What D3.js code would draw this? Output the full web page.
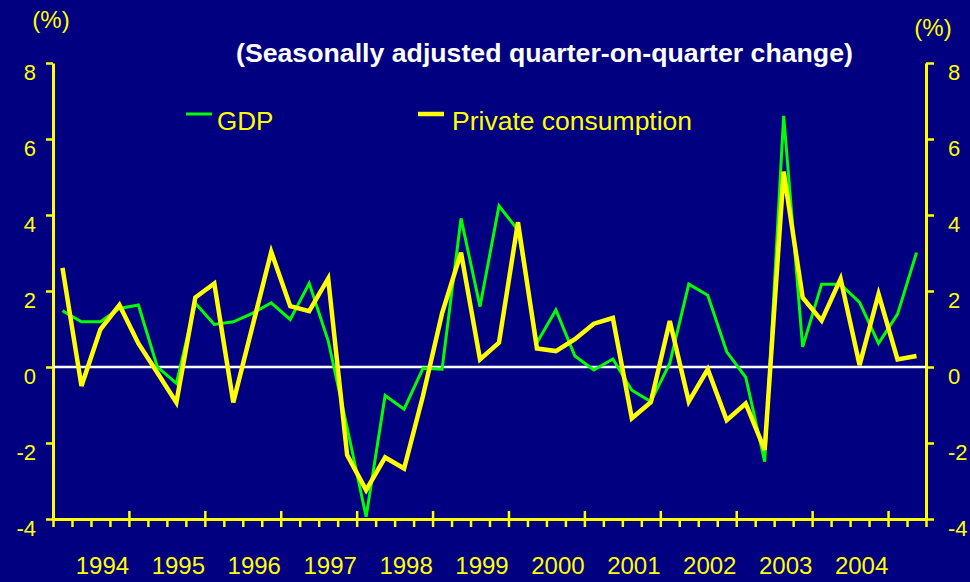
<!DOCTYPE html>
<html>
<head>
<meta charset="utf-8">
<script src="https://cdn.jsdelivr.net/npm/d3@7"></script>
<style>
  html, body { margin: 0; padding: 0; background: #000080; }
  svg { display: block; }
</style>
</head>
<body>
<script>
'use strict';

// quarterly data, 1994 Q1 .. 2005 Q2
const years = [1994, 1995, 1996, 1997, 1998, 1999, 2000, 2001, 2002, 2003, 2004];
const gdp = [1.48, 1.19, 1.19, 1.54, 1.63, 0.0, -0.43, 1.68, 1.12, 1.19, 1.41, 1.69,
  1.25, 2.20, 0.69, -1.6, -3.94, -0.75, -1.11, -0.03, -0.06, 3.91, 1.59, 4.24,
  3.6, 0.64, 1.50, 0.29, -0.08, 0.21, -0.61, -0.91, 0.10, 2.18, 1.89, 0.40,
  -0.27, -2.49, 6.61, 0.53, 2.18, 2.18, 1.70, 0.62, 1.39, 3.01];
const consumption = [2.61, -0.50, 0.99, 1.63, 0.62, -0.15, -0.93, 1.83, 2.20, -0.93, 1.05, 3.03,
  1.60, 1.47, 2.33, -2.32, -3.24, -2.38, -2.67, -0.75, 1.41, 3.01, 0.20, 0.64,
  3.81, 0.49, 0.42, 0.73, 1.14, 1.29, -1.35, -0.93, 1.21, -0.91, -0.06, -1.40,
  -0.96, -2.18, 5.14, 1.83, 1.22, 2.32, 0.05, 1.92, 0.20, 0.29];
const yTicks = [-4, -2, 0, 2, 4, 6, 8];

(function () {

  const font = "Arial, 'Liberation Sans', sans-serif";
  const yellow = '#FFFF00';
  const green = '#00FF00';

  let svgContainer = d3.select('body')
    .append('svg')
    .attr('width', 970)
    .attr('height', 582);

  svgContainer.append('rect')
    .attr('width', 970)
    .attr('height', 582)
    .attr('fill', '#000080');

  // x: quarter edges, points sit in the middle of each quarter
  let xScale = d3.scaleLinear().domain([0, gdp.length]).range([53, 926]);
  let yScale = d3.scaleLinear().domain([-4, 8]).range([519, 63]);

  // plain hyphen for negatives, like the original
  let tickFmt = (d) => String(d);

  drawAxes();
  plotData();
  makeLabels();
  makeLegend();

  function styleAxis(g, size) {
    g.attr('font-family', font).attr('font-size', size);
    g.select('.domain').attr('stroke', yellow).attr('stroke-width', 3);
    g.selectAll('.tick line').attr('stroke', yellow).attr('stroke-width', 2.5);
    g.selectAll('.tick text').attr('fill', yellow);
  }

  function drawAxes() {
    // left axis
    let left = svgContainer.append('g')
      .attr('transform', 'translate(53,0)')
      .call(d3.axisLeft(yScale).tickValues(yTicks).tickFormat(tickFmt)
        .tickSize(7).tickSizeOuter(0).tickPadding(10));
    styleAxis(left, 22);
    left.selectAll('.tick text').attr('dy', 16);

    // right axis
    let right = svgContainer.append('g')
      .attr('transform', 'translate(926,0)')
      .call(d3.axisRight(yScale).tickValues(yTicks).tickFormat(tickFmt)
        .tickSize(8).tickSizeOuter(0).tickPadding(14));
    styleAxis(right, 22);
    right.selectAll('.tick text').attr('dy', 16);

    // zero line
    svgContainer.append('line')
      .attr('x1', xScale(0))
      .attr('x2', xScale(gdp.length))
      .attr('y1', yScale(0))
      .attr('y2', yScale(0))
      .attr('stroke', 'white')
      .attr('stroke-width', 2.5);

    // bottom axis: quarter ticks, longer ticks between years
    let bottom = svgContainer.append('g')
      .attr('transform', 'translate(0,' + yScale(-4) + ')')
      .call(d3.axisBottom(xScale).tickValues(d3.range(0, gdp.length + 1))
        .tickSize(8).tickSizeOuter(0).tickFormat(''));
    styleAxis(bottom, 24);
    bottom.selectAll('.tick line')
      .attr('y1', (d) => (d % 4 === 0 && d > 0 && d < gdp.length) ? -8 : 0);

    // year labels
    svgContainer.selectAll('.yearLabel')
      .data(years)
      .enter()
      .append('text')
      .attr('class', 'yearLabel')
      .attr('x', (d, i) => xScale(i * 4 + 2.5) + 2)
      .attr('y', 574)
      .attr('text-anchor', 'middle')
      .attr('font-family', font)
      .attr('font-size', 24)
      .attr('fill', yellow)
      .text((d) => d);
  }

  function plotData() {
    let line = d3.line()
      .x((d, i) => xScale(i + 0.5))
      .y((d) => yScale(d));

    svgContainer.append('path')
      .datum(gdp)
      .attr('d', line)
      .attr('fill', 'none')
      .attr('stroke', green)
      .attr('stroke-width', 3);

    svgContainer.append('path')
      .datum(consumption)
      .attr('d', line)
      .attr('fill', 'none')
      .attr('stroke', yellow)
      .attr('stroke-width', 4.5);
  }

  function makeLabels() {
    svgContainer.append('text')
      .attr('x', 236)
      .attr('y', 62)
      .attr('font-family', font)
      .attr('font-size', 26.7)
      .attr('font-weight', 'bold')
      .attr('fill', 'white')
      .text('(Seasonally adjusted quarter-on-quarter change)');

    svgContainer.append('text')
      .attr('x', 51)
      .attr('y', 28)
      .attr('text-anchor', 'middle')
      .attr('font-family', font)
      .attr('font-size', 24)
      .attr('fill', yellow)
      .text('(%)');

    svgContainer.append('text')
      .attr('x', 933)
      .attr('y', 36)
      .attr('text-anchor', 'middle')
      .attr('font-family', font)
      .attr('font-size', 24)
      .attr('fill', yellow)
      .text('(%)');
  }

  function makeLegend() {
    svgContainer.append('line')
      .attr('x1', 186).attr('x2', 212)
      .attr('y1', 114).attr('y2', 114)
      .attr('stroke', green)
      .attr('stroke-width', 3);

    svgContainer.append('text')
      .attr('x', 217)
      .attr('y', 130)
      .attr('font-family', font)
      .attr('font-size', 26)
      .attr('fill', yellow)
      .text('GDP');

    svgContainer.append('line')
      .attr('x1', 418).attr('x2', 444)
      .attr('y1', 114).attr('y2', 114)
      .attr('stroke', yellow)
      .attr('stroke-width', 4.5);

    svgContainer.append('text')
      .attr('x', 452)
      .attr('y', 130)
      .attr('font-family', font)
      .attr('font-size', 26.5)
      .attr('fill', yellow)
      .text('Private consumption');
  }

})();
</script>
</body>
</html>
